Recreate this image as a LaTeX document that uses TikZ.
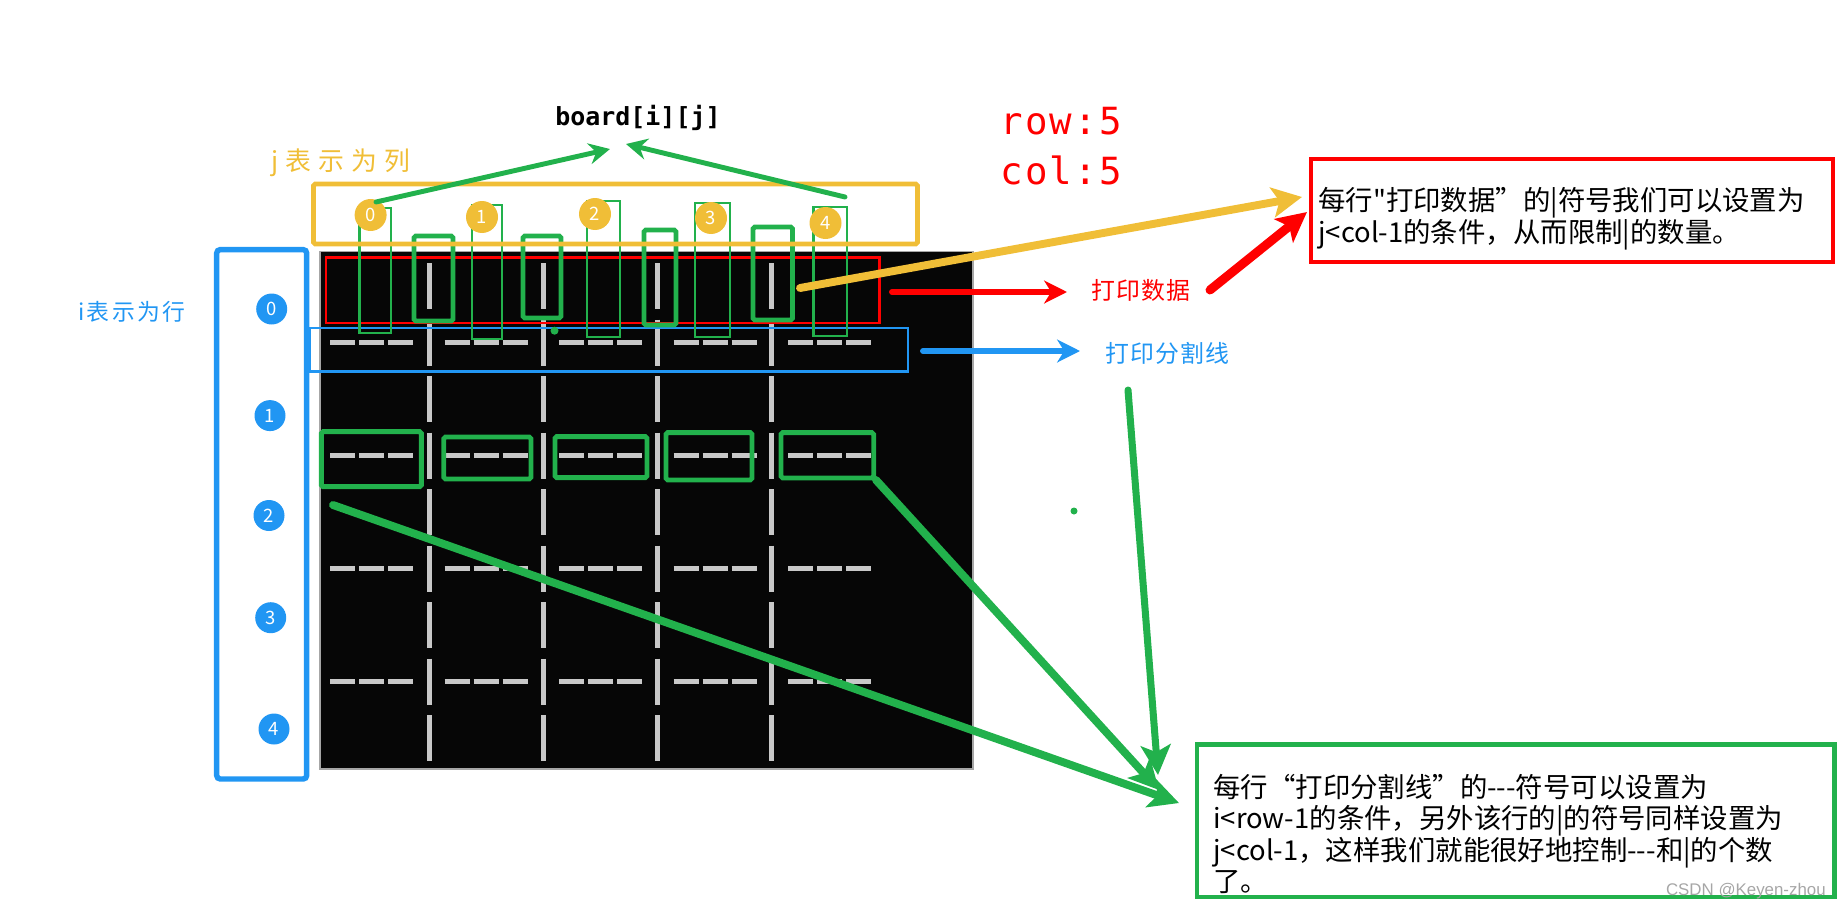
\documentclass[tikz,border=0pt]{standalone}
\usepackage{fontspec}
\setmainfont{Noto Sans CJK SC}[Ligatures=TeXOff]
\newfontfamily\codefont{DejaVu Sans Mono}
\newfontfamily\markfont{Liberation Sans}
\usepackage{tikz}
\usetikzlibrary{arrows.meta}
\definecolor{pgreen}{RGB}{34,177,76}
\definecolor{pyellow}{RGB}{240,190,55}
\definecolor{pblue}{RGB}{33,150,243}
\definecolor{pred}{RGB}{255,0,0}
\definecolor{gridgray}{RGB}{200,200,200}
\definecolor{panel}{RGB}{6,6,6}
\def\tdash{-\kern0pt-\kern0pt-}
\tikzset{
  lbl/.style={inner sep=0pt, anchor=west},
  gridbar/.style={gridgray, line width=2.3pt},
  griddash/.style={gridgray, line width=2.8pt},
  thinbox/.style={draw=pgreen, line width=1.2pt},
  thickbox/.style={draw=pgreen, line width=2.8pt, rounded corners=1pt},
  ycirc/.style={circle, fill=pyellow, text=white, inner sep=0pt, minimum size=0.64cm, font=\fontsize{10.5pt}{12pt}\selectfont},
  bcirc/.style={circle, fill=pblue, text=white, inner sep=0pt, minimum size=0.62cm, font=\fontsize{10.5pt}{12pt}\selectfont},
  paint/.style={line cap=round, -{Stealth[length=#1, width=#1, inset=4pt]}},
}

\begin{document}
\begin{tikzpicture}[x=0.02cm, y=-0.02cm]
			\useasboundingbox (0,0) rectangle (1838,906);
			%%%%% CONSOLE %%%%%
			\draw[fill=panel, draw=gray!70, line width=0.6pt] (320,251.7) rectangle (973,769);
			\foreach \k in {0,...,8}
				\foreach \c in {0,...,3}
					\draw[gridbar] ({429.5+114*\c},{263+56.5*\k}) -- ++(0,46);
			\foreach \k in {1,3,5,7}
				\foreach \c in {0,...,4}
					\foreach \d in {0,1,2}
						\draw[griddash] ({330+114.5*\c+29*\d},{286+56.5*\k}) -- ++(25,0);
			
			%%%%% MARKS ON THE CONSOLE %%%%%
			\draw[pred, line width=1.7pt] (326,257.7) rectangle (879.5,323);
			\draw[pblue, line width=1.4pt] (310,328) rectangle (908,371.7);
			\foreach \xa/\ya/\xb/\yb in {359.5/208/390.7/333, 472/205/502/339, 586.7/200.7/620/336.7, 695/203/730/337, 813.5/207/847/336}
				\draw[thinbox] (\xa,\ya) rectangle (\xb,\yb);
			\foreach \xa/\ya/\xb/\yb in {414/236/453/321, 523/236/561/318, 644/230/676/325, 753/227/792.5/320, 321.4/431.7/421.4/486.7, 443.75/437/531/479, 555/436.7/647/477.7, 666/432.7/752/480, 781/432.7/873.7/478}
				\draw[thickbox] (\xa,\ya) rectangle (\xb,\yb);
			\draw[pyellow, line width=2.8pt, rounded corners=1pt] (313.5,184) rectangle (917.5,244);
			\draw[pblue, line width=3.1pt, rounded corners=2pt] (216.7,249.6) rectangle (306.7,779);
			
			\foreach \n/\xx/\yy in {0/370.6/215, 1/482/217, 2/595/214, 3/711/218, 4/825.5/223}
				\node[ycirc] (j\n) at (\xx,\yy) {\n};
			\foreach \n/\xx/\yy in {0/271.7/309, 1/270/415.6, 2/269/515.5, 3/270.7/617.7, 4/274/729}
				\node[bcirc] (i\n) at (\xx,\yy) {\n};
			\fill[pgreen] (554.5,330.7) circle (4);
			\fill[pgreen] (1074,511) circle (3.5);
			
			%%%%% LABELS %%%%%
			\node[lbl, font=\codefont\bfseries\fontsize{14.2pt}{16pt}\selectfont] (board) at (555,118) {board[i][j]};
			\node[lbl, text=pyellow, font=\fontsize{14.7pt}{16pt}\selectfont\addfontfeatures{LetterSpace=28}] (jtext) at (271,163) {j表示为列};
			\node[lbl, text=pblue, font=\fontsize{13pt}{15pt}\selectfont\addfontfeatures{LetterSpace=10}] (itext) at (78,312) {i表示为行};
			\node[lbl, text=pred, font=\codefont\fontsize{21.3pt}{23pt}\selectfont\addfontfeatures{LetterSpace=6}] (rowtext) at (1000,121) {row:5};
			\node[lbl, text=pred, font=\codefont\fontsize{21.3pt}{23pt}\selectfont\addfontfeatures{LetterSpace=6}] (coltext) at (1000,170) {col:5};
			\node[lbl, text=pred, font=\fontsize{13.6pt}{15pt}\selectfont\addfontfeatures{LetterSpace=5}] (datatext) at (1091,290) {打印数据};
			\node[lbl, text=pblue, font=\fontsize{13.6pt}{15pt}\selectfont\addfontfeatures{LetterSpace=5}] (septext) at (1105,353) {打印分割线};
			
			%%%%% NOTES %%%%%
			\draw[pred, line width=2.3pt] (1311,159) rectangle (1833,262);
			\node[lbl, align=left, font=\fontsize{15.6pt}{18pt}\selectfont] (datanote) at (1318,219) {每行"打印数据”的|符号我们可以设置为\\j<col-1的条件，从而限制|的数量。};
			\draw[pgreen, line width=2.5pt] (1196.7,744.3) rectangle (1834.6,896.7);
			\node[lbl, align=left, font=\fontsize{15.6pt}{17.4pt}\selectfont] (sepnote) at (1213,834) {每行“打印分割线”的\tdash 符号可以设置为\\i<row-1的条件，另外该行的|的符号同样设置为\\j<col-1，这样我们就能很好地控制\tdash 和|的个数\\了。};
			\node[anchor=east, inner sep=0pt, text=gray!70, font=\markfont\fontsize{9.6pt}{11pt}\selectfont] (mark) at (1826,891) {CSDN @Keyen-zhou};
			
			%%%%% ARROWS %%%%%
			\coordinate (bdL) at (610,149);
			\coordinate (bdR) at (626,144);
			\coordinate (tailL) at (376,202);
			\coordinate (tailR) at (845,197);
			\coordinate (ytail) at (800,288);
			\coordinate (ytip) at (1302,197);
			\coordinate (rtail) at (892,292);
			\coordinate (rtip) at (1067,292);
			\coordinate (btail) at (923,351);
			\coordinate (btip) at (1080,351);
			\coordinate (dtail) at (1210,290);
			\coordinate (dtip) at (1307,212);
			\coordinate (vtail) at (1128,390);
			\coordinate (vtip) at (1158,775);
			\coordinate (etail) at (876,480);
			\coordinate (etip) at (1159,790);
			\coordinate (ltail) at (333,505);
			\coordinate (ltip) at (1179,803);
			\draw[pgreen, line width=2.8pt, paint=12pt] (tailL) -- (bdL);
			\draw[pgreen, line width=2.8pt, paint=12pt] (tailR) -- (bdR);
			\draw[pyellow, line width=4.5pt, paint=17pt] (ytail) -- (ytip);
			\draw[pred, line width=3.4pt, paint=13pt] (rtail) -- (rtip);
			\draw[pblue, line width=3.4pt, paint=13pt] (btail) -- (btip);
			\draw[pred, line width=5.1pt, paint=17pt] (dtail) -- (dtip);
			\draw[pgreen, line width=4pt, paint=17pt] (vtail) -- (vtip);
			\draw[pgreen, line width=4.5pt, paint=17pt] (etail) -- (etip);
			\draw[pgreen, line width=4.5pt, paint=17pt] (ltail) -- (ltip);
			%%%%% END %%%%%
\end{tikzpicture}
\end{document}
